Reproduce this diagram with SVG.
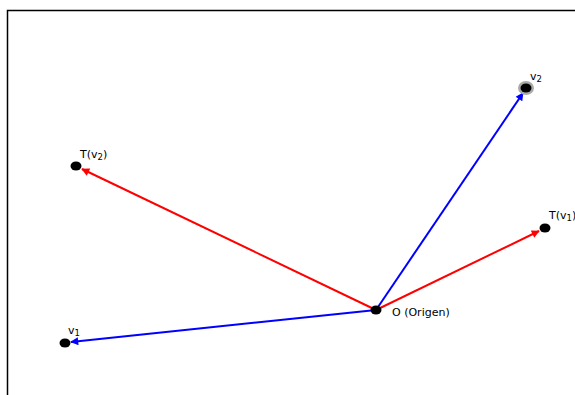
<svg xmlns="http://www.w3.org/2000/svg" width="575" height="395" viewBox="0 0 575 395">
<style>
.lbl{font-family:"DejaVu Sans",sans-serif;font-size:11px;fill:#000}
.sub{font-size:8.5px}
.pt{fill:#000}
.blue{stroke:#0000ff;stroke-width:2;fill:none}
.red{stroke:#ff0000;stroke-width:2;fill:none}
</style>
<defs>
<marker id="ab" viewBox="0 0 10 10" refX="9" refY="5" markerWidth="5" markerHeight="4" orient="auto" markerUnits="strokeWidth"><path d="M0,0 L10,5 L0,10 z" fill="#0000ff"/></marker>
<marker id="ar" viewBox="0 0 10 10" refX="9" refY="5" markerWidth="5" markerHeight="4" orient="auto" markerUnits="strokeWidth"><path d="M0,0 L10,5 L0,10 z" fill="#ff0000"/></marker>
</defs>
<rect x="0" y="0" width="575" height="395" fill="#fff"/>
<path d="M7.5,395 V10.5 H575" fill="none" stroke="#000" stroke-width="1.5"/>
<g id="connectors">
<line class="blue" x1="376" y1="310" x2="71" y2="342" marker-end="url(#ab)"/>
<line class="blue" x1="376" y1="310" x2="523" y2="93" marker-end="url(#ab)"/>
<line class="red" x1="376" y1="310" x2="539" y2="231" marker-end="url(#ar)"/>
<line class="red" x1="376" y1="310" x2="82" y2="169" marker-end="url(#ar)"/>
</g>
<g id="O"><ellipse class="pt" cx="376" cy="310" rx="5.5" ry="4.5"/><text class="lbl" x="392" y="316">O (Origen)</text></g>
<g id="v1"><ellipse class="pt" cx="65" cy="343" rx="5.5" ry="4.5"/><text class="lbl" x="68" y="334">v<tspan class="sub" dy="2">1</tspan></text></g>
<g id="v2"><ellipse cx="526" cy="88" rx="8" ry="7" fill="#aaa"/><ellipse class="pt" cx="526" cy="88" rx="5.5" ry="4.5"/><text class="lbl" x="530" y="80">v<tspan class="sub" dy="2">2</tspan></text></g>
<g id="Tv1"><ellipse class="pt" cx="545" cy="228" rx="5.5" ry="4.5"/><text class="lbl" x="549" y="219">T(v<tspan class="sub" dy="2">1</tspan><tspan dy="-2">)</tspan></text></g>
<g id="Tv2"><ellipse class="pt" cx="76" cy="166" rx="5.5" ry="4.5"/><text class="lbl" x="80" y="158">T(v<tspan class="sub" dy="2">2</tspan><tspan dy="-2">)</tspan></text></g>
</svg>
